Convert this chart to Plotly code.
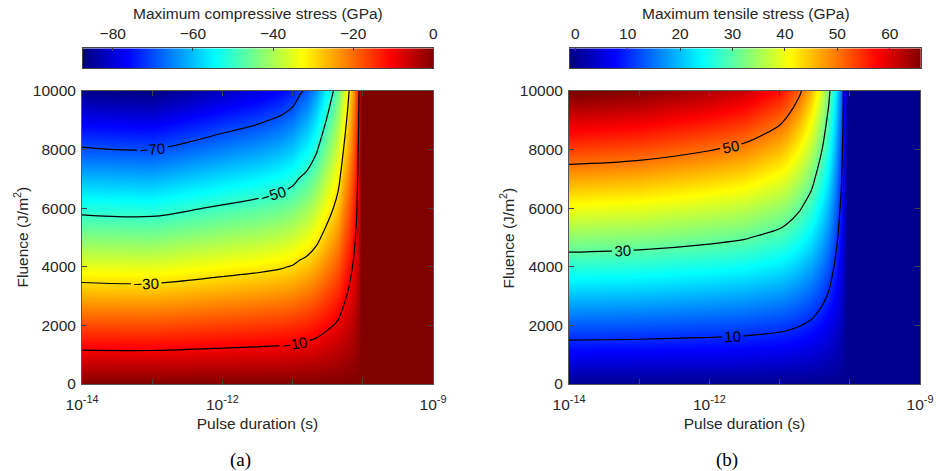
import plotly.graph_objects as go

# ---- data ----
fluence = [0, 1000, 2000, 3000, 4000, 5000, 6000, 7000, 8000, 9000, 10000]  # J/m^2

# pulse duration grid (exponent of 10, seconds)
comp_tau_exp = [-14, -13, -12, -11.5, -11.18, -11.0, -10.9, -10.8, -10.66, -10.52,
                -10.42, -10.35, -10.28, -10.2, -10.125, -10.09, -10.054, -10.03, -9]
# maximum compressive stress at F = 10000 J/m^2 (GPa)
comp_at_10k = [-86.6, -87.4, -81.8, -79.0, -76.5, -74.0, -71.0, -68.8, -63.5, -55.5,
               -50.0, -45.5, -38.0, -30.5, -22.7, -18.0, -10.0, 0.0, 0.0]

tens_tau_exp = [-14, -13, -12, -11.5, -11.0, -10.9, -10.72, -10.55, -10.4, -10.3,
                -10.2, -10.12, -10.09, -10.035, -9]
# maximum tensile stress at F = 10000 J/m^2 (GPa)
tens_at_10k = [66.7, 65.5, 62.8, 60.8, 56.6, 55.0, 51.0, 45.5, 37.8, 31.5,
               22.7, 14.9, 10.0, 0.0, 0.0]

comp_range = [-87.5, 0.0]
tens_range = [-1.0, 65.9]
comp_ticks = [-80, -60, -40, -20, 0]
tens_ticks = [0, 10, 20, 30, 40, 50, 60]
x_tick_exp = [-14, -13, -12, -11, -10, -9]
x_tick_text = ['10<sup>-14</sup>', '', '10<sup>-12</sup>', '', '', '10<sup>-9</sup>']
y_ticks = [0, 2000, 4000, 6000, 8000, 10000]

# ---- build tables (stress scales with fluence) ----
comp_x = [10 ** e for e in comp_tau_exp]
tens_x = [10 ** e for e in tens_tau_exp]
z_comp = [[v * f / 10000 for v in comp_at_10k] for f in fluence]
z_tens = [[v * f / 10000 for v in tens_at_10k] for f in fluence]

jet = [[0, 'rgb(0,0,128)'], [0.125, 'rgb(0,0,255)'], [0.375, 'rgb(0,255,255)'],
       [0.625, 'rgb(255,255,0)'], [0.875, 'rgb(255,0,0)'], [1, 'rgb(128,0,0)']]

SANS = 'Liberation Sans, Arial, Helvetica, sans-serif'
SERIF = 'Liberation Serif, DejaVu Serif, serif'
FS = 15.5
TXT = '#262626'
W, H = 936, 471

fig = go.Figure()
# panel (a)
fig.add_trace(go.Heatmap(
    x=comp_x, y=fluence, z=z_comp, colorscale=jet, zmin=comp_range[0], zmax=comp_range[1],
    zsmooth='best', showscale=False, hoverinfo='skip', xaxis='x', yaxis='y'))
fig.add_trace(go.Contour(
    x=comp_x, y=fluence, z=z_comp, autocontour=False, showscale=False,
    contours=dict(coloring='none', start=-70, end=-10, size=20, showlabels=True,
                  labelfont=dict(family=SANS, size=15, color='black')),
    line=dict(color='black', width=1.2), hoverinfo='skip', xaxis='x', yaxis='y'))
# panel (b)
fig.add_trace(go.Heatmap(
    x=tens_x, y=fluence, z=z_tens, colorscale=jet, zmin=tens_range[0], zmax=tens_range[1],
    zsmooth='best', showscale=False, hoverinfo='skip', xaxis='x2', yaxis='y2'))
fig.add_trace(go.Contour(
    x=tens_x, y=fluence, z=z_tens, autocontour=False, showscale=False,
    contours=dict(coloring='none', start=10, end=50, size=20, showlabels=True,
                  labelfont=dict(family=SANS, size=15, color='black')),
    line=dict(color='black', width=1.2), hoverinfo='skip', xaxis='x2', yaxis='y2'))
# colour bars drawn as gradient strips on their own axes
fig.add_trace(go.Heatmap(
    x=comp_range, y=[0], z=[comp_range], colorscale=jet, zmin=comp_range[0],
    zmax=comp_range[1], zsmooth='best', showscale=False, hoverinfo='skip',
    xaxis='x3', yaxis='y3'))
fig.add_trace(go.Heatmap(
    x=tens_range, y=[0], z=[tens_range], colorscale=jet, zmin=tens_range[0],
    zmax=tens_range[1], zsmooth='best', showscale=False, hoverinfo='skip',
    xaxis='x4', yaxis='y4'))

ydom = [1 - 384 / H, 1 - 91 / H]
cbdom = [1 - 68.3 / H, 1 - 48.3 / H]


def xax(dom, anchor):
    return dict(domain=dom, anchor=anchor, type='log', range=[-14, -9], tickmode='array',
                tickvals=[10 ** e for e in x_tick_exp], ticktext=x_tick_text,
                ticks='inside', ticklen=5, tickcolor='#444', showline=True, linecolor='#555',
                linewidth=1, mirror='ticks', showgrid=False, zeroline=False,
                automargin=False, ticklabelstandoff=6,
                tickfont=dict(family=SANS, size=FS, color=TXT),
                title=dict(text='Pulse duration (s)', font=dict(family=SANS, size=FS, color=TXT),
                           standoff=6))


def yax(anchor):
    return dict(domain=ydom, range=[0, 10000], tickvals=y_ticks, tickformat='d',
                ticks='inside', ticklen=5,
                tickcolor='#444', showline=True, linecolor='#555', linewidth=1, mirror='ticks',
                showgrid=False, zeroline=False, anchor=anchor, automargin=False,
                ticklabelstandoff=2,
                tickfont=dict(family=SANS, size=FS, color=TXT))


def cbx(dom, anchor, rng, ticks):
    return dict(domain=dom, anchor=anchor, range=rng, side='top', tickmode='array',
                tickvals=ticks, ticks='inside', ticklen=3, tickcolor='#444',
                showline=True, linecolor='#444', linewidth=1, mirror=True,
                showgrid=False, zeroline=False, automargin=False, ticklabelstandoff=2,
                tickfont=dict(family=SANS, size=FS, color=TXT))


def cby(anchor):
    return dict(domain=cbdom, anchor=anchor, range=[-0.5, 0.5], showticklabels=False,
                ticks='', showline=True, linecolor='#444', linewidth=1, mirror=True,
                showgrid=False, zeroline=False, automargin=False)


def note(text, x, y, font=SANS, size=FS, angle=0, color=TXT):
    return dict(text=text, x=x / W, y=1 - y / H, xref='paper', yref='paper', showarrow=False,
                xanchor='center', yanchor='middle', textangle=angle,
                font=dict(family=font, size=size, color=color))


fig.update_layout(
    width=W, height=H, margin=dict(l=0, r=0, t=0, b=0),
    paper_bgcolor='white', plot_bgcolor='white', showlegend=False,
    xaxis=xax([82 / W, 433 / W], 'y'),
    yaxis=yax('x'),
    xaxis2=xax([569 / W, 920 / W], 'y2'),
    yaxis2=yax('x2'),
    xaxis3=cbx([82.7 / W, 433.3 / W], 'y3', comp_range, comp_ticks),
    yaxis3=cby('x3'),
    xaxis4=cbx([570 / W, 920.7 / W], 'y4', tens_range, tens_ticks),
    yaxis4=cby('x4'),
    annotations=[
        note('Maximum compressive stress (GPa)', 258, 14),
        note('Maximum tensile stress (GPa)', 745.5, 14),
        note('Fluence (J/m<sup>2</sup>)', 21, 237.5, angle=-90),
        note('Fluence (J/m<sup>2</sup>)', 507, 237.5, angle=-90),
        note('(a)', 241, 460, font=SERIF, size=19, color='black'),
        note('(b)', 727, 460, font=SERIF, size=19, color='black'),
    ])

fig.write_html('out.html')
